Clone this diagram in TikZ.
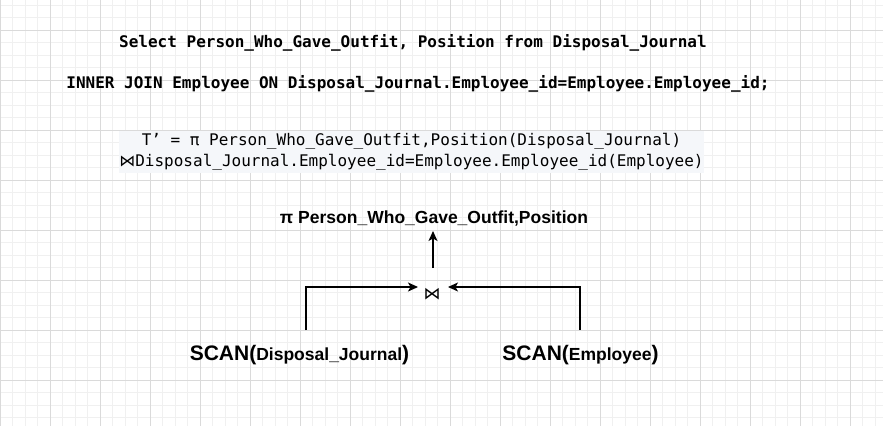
\documentclass[tikz,border=0pt]{standalone}
\usepackage{fontspec}
\setmainfont{Liberation Sans}
\newfontfamily\codefont{DejaVu Sans Mono}
\newfontfamily\symfont{DejaVu Sans}
\usepackage{xcolor}
\usetikzlibrary{arrows.meta}
\usetikzlibrary{math}
\definecolor{gridmajor}{RGB}{218, 218, 218}
\definecolor{gridminor}{RGB}{240, 240, 240}
\definecolor{codebg}{RGB}{245, 247, 250}

\tikzset{
  sqlline/.style={inner sep=0, font=\codefont\bfseries\fontsize{16}{19}\selectfont},
  relline/.style={inner sep=0, fill=codebg, minimum width=583, minimum height=42,
    align=center, font=\codefont\fontsize{16}{21}\selectfont},
  opnode/.style={inner sep=0, font=\bfseries\fontsize{17.5}{21}\selectfont},
  arr/.style={-{Stealth[length=10, width=9, inset=2.5]}, line width=1.2},
}
\newcommand{\bigpar}[1]{{\fontsize{21}{25}\selectfont #1}}

\begin{document}
\begin{tikzpicture}[x=1pt, y=-1pt]
\tikzmath{
\W=883;
\H=426;
}
\useasboundingbox (0,0) rectangle (\W,\H);

% grid
\foreach \gx in {0,12.5,...,883} \draw[gridminor, line width=1] (\gx,0) -- (\gx,\H);
\foreach \gy in {5,17.5,...,426} \draw[gridminor, line width=1] (0,\gy) -- (\W,\gy);
\foreach \gx in {0,50,...,850} \draw[gridmajor, line width=1] (\gx,0) -- (\gx,\H);
\foreach \gy in {30,80,...,380} \draw[gridmajor, line width=1] (0,\gy) -- (\W,\gy);

% query text
\node[sqlline] (select) at (413,43) {Select Person\_Who\_Gave\_Outfit, Position from Disposal\_Journal};
\node[sqlline] (innerjoin) at (418,84) {INNER JOIN Employee ON Disposal\_Journal.Employee\_id=Employee.Employee\_id;};

\node[relline] (relexpr) at (411.5,152) {T’ = π Person\_Who\_Gave\_Outfit,Position(Disposal\_Journal)\\
{\symfont ⋈}Disposal\_Journal.Employee\_id=Employee.Employee\_id(Employee)};

% tree
\node[opnode] (proj) at (434,219) {π Person\_Who\_Gave\_Outfit,Position};
\node[inner sep=0, font=\symfont\fontsize{17}{20}\selectfont] (join) at (432,294) {⋈};
\node[opnode] (scanL) at (299.5,355) {\bigpar{SCAN(}Disposal\_Journal\bigpar{)}};
\node[opnode] (scanR) at (580.5,355) {\bigpar{SCAN(}Employee\bigpar{)}};

\coordinate (srcL) at (306,330);
\coordinate (srcR) at (580,330);
\coordinate (inL) at (418,287);
\coordinate (inR) at (448,287);
\coordinate (out) at (433,268);
\coordinate (top) at (433,231);

\draw[arr] (srcL) |- (inL);
\draw[arr] (srcR) |- (inR);
\draw[arr] (out) -- (top);
\end{tikzpicture}
\end{document}
